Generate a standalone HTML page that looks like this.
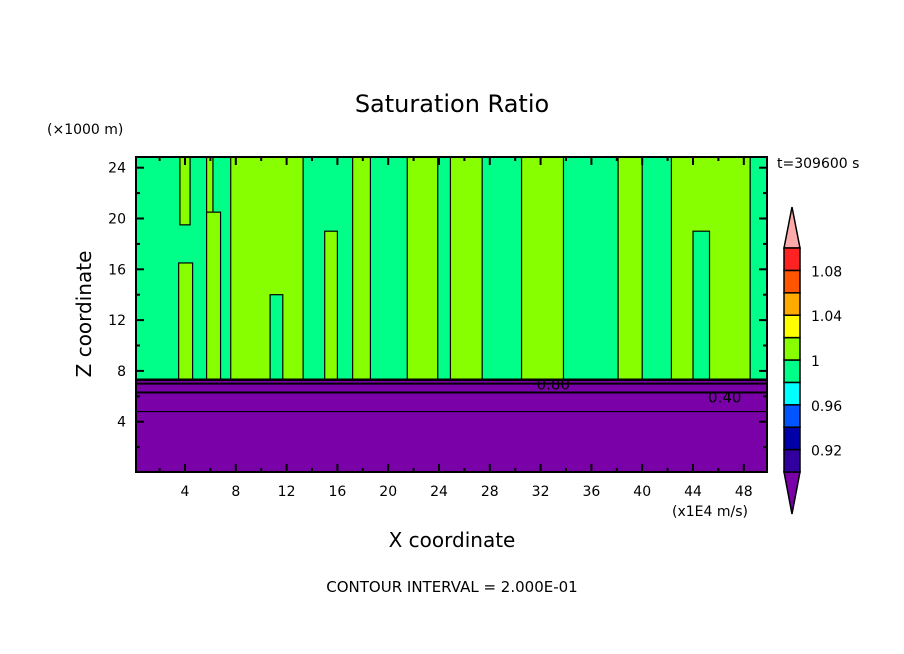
<!DOCTYPE html>
<html><head><meta charset="utf-8"><style>
body{margin:0;background:#fff;}
svg{display:block;font-family:"DejaVu Sans","Liberation Sans",sans-serif;}
</style></head><body>
<svg id="chart" width="904" height="654" viewBox="0 0 904 654">
<text x="452" y="112" font-size="24" text-anchor="middle">Saturation Ratio</text>
<text x="47" y="134" font-size="14">(×1000 m)</text>
<text transform="translate(91,314) rotate(-90)" font-size="20" text-anchor="middle">Z coordinate</text>
<text x="452" y="547" font-size="20" text-anchor="middle">X coordinate</text>
<text x="672" y="516" font-size="14">(x1E4 m/s)</text>
<text x="777" y="168" font-size="14">t=309600 s</text>
<text x="452" y="592" font-size="15" text-anchor="middle">CONTOUR INTERVAL = 2.000E-01</text>
<g id="plot"></g>
<g id="cbar"></g>
</svg>
<script>
// Lime (>1.00) / green (0.98-1.00) column patches in data units
const patchX0 = [3.6, 3.5, 5.7, 5.7, 7.6, 10.7, 15.0, 17.2, 21.5, 24.9, 30.5, 38.1, 42.3, 44.0];
const patchX1 = [4.4, 4.6, 6.2, 6.8, 13.3, 11.7, 16.0, 18.6, 23.9, 27.4, 33.8, 40.0, 48.5, 45.3];
const patchTop = [25, 16.5, 25, 20.5, 25, 14, 19, 25, 25, 25, 25, 25, 25, 19];
const patchBot = [19.5, 7.3, 20, 7.3, 7.3, 7.3, 7.3, 7.3, 7.3, 7.3, 7.3, 7.3, 7.3, 7.3];
const patchLevel = [1, 1, 1, 1, 1, 0, 1, 1, 1, 1, 1, 1, 1, 0];
const dryTop = 7.3;
const contourZ = [7.0, 6.3, 4.8];
const contourLabels = ["0.80", "0.40"];
const contourLabelX = [33.0, 46.5];
const contourLabelZ = [7.0, 6.0];
const xTicks = [4, 8, 12, 16, 20, 24, 28, 32, 36, 40, 44, 48];
const yTicks = [4, 8, 12, 16, 20, 24];
const cbarLevels = ["0.92", "", "0.96", "", "1", "", "1.04", "", "1.08", ""];
const cbarColors = ["#3300a0", "#0000a8", "#0055ff", "#00ffff", "#00ff88", "#88ff00", "#ffff00", "#ffaa00", "#ff5500", "#ff2222"];

const L = 136, R = 767, T = 157, B = 472;
const xs = v => 134.2 + v * 12.7;
const zs = v => 472.5 - v * 12.7;
const NS = "http://www.w3.org/2000/svg";
function mk(tag, attrs, parent) {
  const e = document.createElementNS(NS, tag);
  for (const k in attrs) e.setAttribute(k, attrs[k]);
  parent.appendChild(e);
  return e;
}
const plot = document.getElementById('plot');
const bg = mk('rect', {x: L, y: T, width: R - L, height: B - T, fill: '#00ff88'}, plot);


for (let i = 0; i < patchX0.length; i++) {
  const r = mk('rect', {x: xs(patchX0[i]), y: Math.max(T, zs(patchTop[i])), width: xs(patchX1[i]) - xs(patchX0[i]),
    height: zs(patchBot[i]) - Math.max(T, zs(patchTop[i])), fill: patchLevel[i] ? '#88ff00' : '#00ff88', stroke: '#000', 'stroke-width': 1.2}, plot);
  
  
}
const dry = mk('rect', {x: L, y: zs(dryTop), width: R - L, height: B - zs(dryTop), fill: '#7a00a8'}, plot);


const edge = mk('line', {x1: L, x2: R, y1: zs(dryTop), y2: zs(dryTop), stroke: '#000', 'stroke-width': 2.5}, plot);


contourZ.forEach((z, i) => {
  const l = mk('line', {x1: L, x2: R, y1: zs(z), y2: zs(z), stroke: '#000', 'stroke-width': i < 2 ? 2 : 1.2}, plot);
  
  
});
contourLabels.forEach((s, i) => {
  const t = mk('text', {x: xs(contourLabelX[i]), y: zs(contourLabelZ[i]) + 6, 'font-size': 15, 'text-anchor': 'middle'}, plot);
  t.textContent = s;
  
  
});
const frame = mk('rect', {x: L, y: T, width: R - L, height: B - T, fill: 'none', stroke: '#000', 'stroke-width': 2}, plot);


for (let v = 2; v < 50; v += 2) {
  const len = v % 4 === 0 ? 8 : 4;
  mk('line', {x1: xs(v), x2: xs(v), y1: B, y2: B - len, stroke: '#000', 'stroke-width': 2}, plot);
  mk('line', {x1: xs(v), x2: xs(v), y1: T, y2: T + len, stroke: '#000', 'stroke-width': 2}, plot);
}
for (let v = 2; v < 25; v += 2) {
  const len = v % 4 === 0 ? 8 : 4;
  mk('line', {x1: L, x2: L + len, y1: zs(v), y2: zs(v), stroke: '#000', 'stroke-width': 2}, plot);
  mk('line', {x1: R, x2: R - len, y1: zs(v), y2: zs(v), stroke: '#000', 'stroke-width': 2}, plot);
}
xTicks.forEach(v => {
  const t = mk('text', {x: xs(v), y: 496, 'font-size': 14, 'text-anchor': 'middle'}, plot);
  t.textContent = v;
  
  
});
yTicks.forEach(v => {
  const t = mk('text', {x: 126, y: zs(v) + 5, 'font-size': 14, 'text-anchor': 'end'}, plot);
  t.textContent = v;
  
  
});
// colorbar
const cb = document.getElementById('cbar');
const cx0 = 784, cx1 = 800, cTop = 248, cBot = 472, bh = (cBot - cTop) / cbarColors.length;
const up = mk('polygon', {points: `${cx0},${cTop} ${cx1},${cTop} ${(cx0 + cx1) / 2},207`, fill: '#ffaaaa', stroke: '#000', 'stroke-width': 1.5}, cb);


const dn = mk('polygon', {points: `${cx0},${cBot} ${cx1},${cBot} ${(cx0 + cx1) / 2},514`, fill: '#7a00a8', stroke: '#000', 'stroke-width': 1.5}, cb);


cbarColors.forEach((c, i) => {
  const y = cBot - (i + 1) * bh;
  const r = mk('rect', {x: cx0, y: y, width: cx1 - cx0, height: bh, fill: c, stroke: '#000', 'stroke-width': 1.5}, cb);
  
  
  if (cbarLevels[i]) {
    const t = mk('text', {x: 811, y: y + 6, 'font-size': 14}, cb);
    t.textContent = cbarLevels[i];
    
    
  }
});
</script>
</body></html>
